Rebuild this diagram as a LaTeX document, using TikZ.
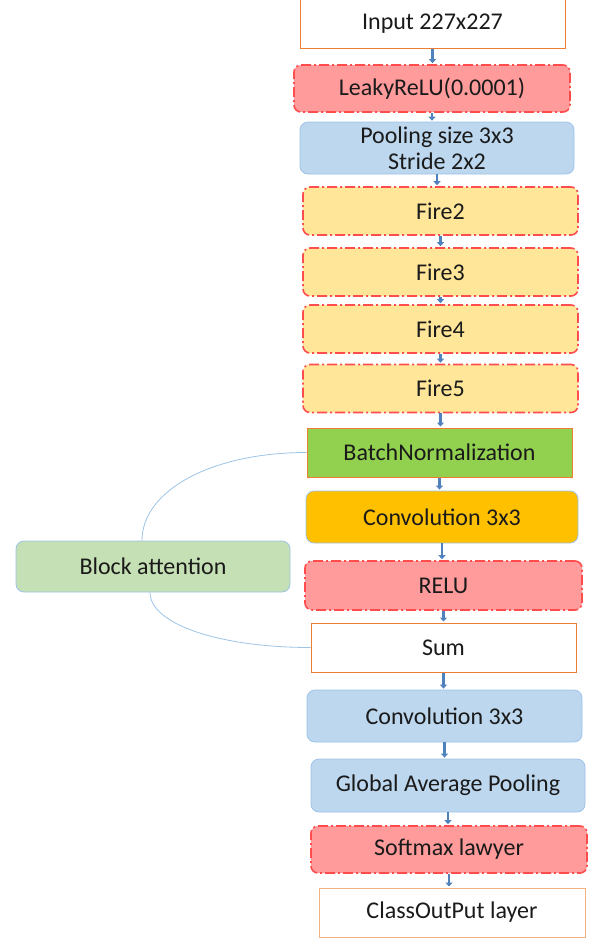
\documentclass[tikz,border=0pt]{standalone}
\usepackage{fontspec}
\setmainfont{Carlito}
\usepackage{xcolor}
\usepackage{tikz}
\usetikzlibrary{positioning, arrows.meta, calc}
\definecolor{net-red}{HTML}{FF4D4D}
\definecolor{net-pink}{HTML}{FF9B9B}
\definecolor{net-sand}{HTML}{FFE699}
\definecolor{net-sky}{HTML}{BDD7EE}
\definecolor{net-skyline}{HTML}{9DC3E6}
\definecolor{net-green}{HTML}{92D050}
\definecolor{net-gold}{HTML}{FFC000}
\definecolor{net-mint}{HTML}{C5E0B4}
\definecolor{net-orange}{HTML}{ED7D31}
\definecolor{net-peach}{HTML}{F4B183}
\definecolor{net-arrow}{HTML}{4F81BD}
\definecolor{net-dark}{HTML}{1A1A1A}

\tikzset{
    layer/.style={minimum height=49pt, inner sep=0pt, align=center,
        font=\fontsize{24}{26}\selectfont, text=net-dark},
    dashbox/.style={layer, fill=net-pink, draw=net-red, line width=1.6pt,
        rounded corners=7pt, dash pattern=on 10pt off 3pt on 2pt off 3pt},
    firebox/.style={dashbox, fill=net-sand, minimum width=275pt, minimum height=48pt},
    softbox/.style={layer, draw=net-skyline, line width=0.8pt, rounded corners=8pt},
    plainbox/.style={layer, fill=white, draw=net-orange, line width=1pt},
    flow/.style={net-arrow, line width=2.5pt, shorten >=1pt,
        -{Triangle[length=4pt, width=7pt]}},
    link/.style={net-skyline, line width=0.8pt}
}

\begin{document}
\begin{tikzpicture}[x=1pt, y=-1pt]
    \useasboundingbox (0,0) rectangle (589,938);

    % main column
    \node[plainbox, minimum width=265pt] (input) at (432.5,23.5) {Input 227x227};
    \node[dashbox, minimum width=276pt, minimum height=47pt] (leaky) at (432,88.5) {LeakyReLU(0.0001)};
    \node[softbox, fill=net-sky, minimum width=274pt, minimum height=52pt] (pool) at (437,148)
        {Pooling size 3x3\\Stride 2x2};
    \foreach \n/\y in {2/211, 3/272, 4/329, 5/388.5} {
        \node[firebox] (fire\n) at (440.5,\y) {Fire\n};
    }
    \node[plainbox, fill=net-green, minimum width=265pt] (bn) at (439.5,452.5) {BatchNormalization};
    \node[softbox, fill=net-gold, minimum width=272pt, minimum height=52pt] (conv) at (442,517) {Convolution 3x3};
    \node[dashbox, minimum width=277pt] (relu) at (443.5,585.5) {RELU};
    \node[plainbox, minimum width=265pt] (sum) at (443.5,647.5) {Sum};
    \node[softbox, fill=net-sky, minimum width=275pt, minimum height=52pt] (conv2) at (444.5,716) {Convolution 3x3};
    \node[softbox, fill=net-sky, minimum width=274pt, minimum height=53pt] (gap) at (448,785.5) {Global Average Pooling};
    \node[dashbox, minimum width=276pt, minimum height=47pt] (soft) at (449,849.5) {Softmax lawyer};
    \node[plainbox, draw=net-peach, minimum width=266pt] (cls) at (452,912.5) {ClassOutPut layer};

    % side branch
    \node[softbox, fill=net-mint, minimum width=274pt, minimum height=51pt] (att) at (153,566.5) {Block attention};

    \foreach \a/\b in {input/leaky, leaky/pool, pool/fire2, fire2/fire3, fire3/fire4,
        fire4/fire5, fire5/bn, bn/conv, conv/relu, relu/sum, sum/conv2, conv2/gap,
        gap/soft, soft/cls} {
        \draw[flow] (\a.south) -- (\a.south |- \b.north);
    }

    \draw[link] (bn.west) .. controls +(-95,0) and +(0,-50) .. ($(att.north)+(-11,0)$);
    \draw[link] ($(att.south)+(-3,0)$) .. controls +(0,32) and +(-90,0) .. (sum.west);
\end{tikzpicture}
\end{document}
